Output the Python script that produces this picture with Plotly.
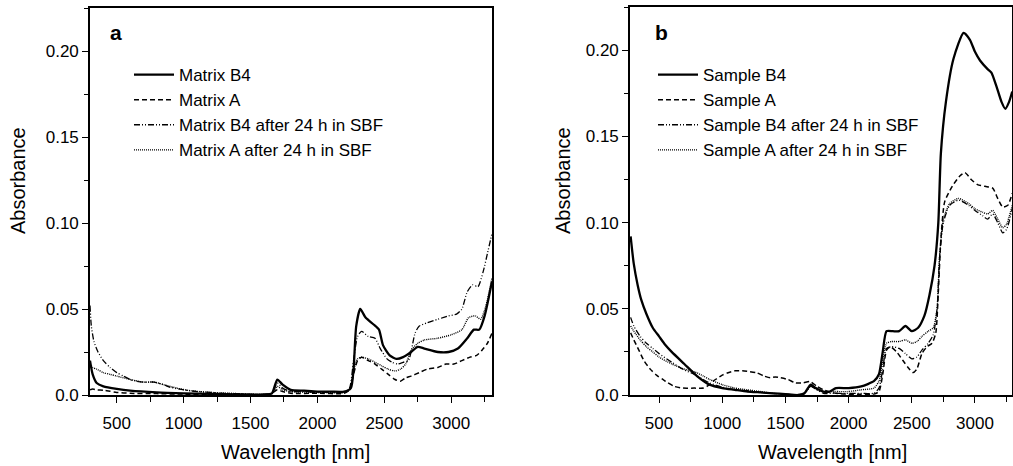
import plotly.graph_objects as go

# ---------------- Panel a : matrices ----------------
a_b4_wl = [300, 320, 350, 400, 500, 600, 800, 1000, 1200, 1400, 1600, 1660, 1700, 1740, 1800, 1900,
           2000, 2100, 2200, 2250, 2270, 2290, 2320, 2360, 2420, 2460, 2490, 2540, 2590, 2640, 2700,
           2750, 2800, 2900, 2980, 3050, 3120, 3170, 3210, 3250, 3305]
a_b4_abs = [0.020, 0.012, 0.007, 0.005, 0.0035, 0.0025, 0.0015, 0.001, 0.0007, 0.0004, 0.0003, 0.001, 0.009,
            0.006, 0.003, 0.0025, 0.002, 0.002, 0.002, 0.004, 0.015, 0.040, 0.050, 0.045, 0.041, 0.038,
            0.029, 0.023, 0.021, 0.022, 0.025, 0.028, 0.027, 0.025, 0.025, 0.027, 0.033, 0.038, 0.038,
            0.046, 0.066]

a_a_wl = [300, 320, 350, 400, 450, 500, 600, 800, 1000, 1200, 1400, 1600, 1660, 1700, 1740, 1800, 2000,
          2200, 2240, 2270, 2300, 2330, 2380, 2430, 2480, 2530, 2580, 2620, 2660, 2700, 2760, 2820, 2900,
          2960, 3020, 3080, 3140, 3190, 3230, 3270, 3305]
a_a_abs = [0.003, 0.0035, 0.003, 0.0028, 0.0022, 0.0015, 0.001, 0.0008, 0.0005, 0.0003, 0.0002, 0.0002,
           0.001, 0.003, 0.002, 0.001, 0.001, 0.001, 0.003, 0.012, 0.020, 0.022, 0.020, 0.018, 0.015,
           0.012, 0.009, 0.008, 0.010, 0.011, 0.013, 0.015, 0.016, 0.018, 0.018, 0.020, 0.022, 0.023,
           0.026, 0.030, 0.036]

a_b4sbf_wl = [300, 310, 330, 360, 400, 450, 500, 550, 600, 650, 700, 780, 850, 900, 1000, 1100, 1200,
              1300, 1400, 1500, 1600, 1660, 1700, 1740, 1800, 1900, 2000, 2100, 2200, 2240, 2270, 2300,
              2330, 2380, 2430, 2470, 2520, 2560, 2600, 2640, 2680, 2700, 2730, 2760, 2820, 2900, 2980,
              3040, 3080, 3120, 3160, 3200, 3240, 3270, 3305]
a_b4sbf_abs = [0.052, 0.040, 0.031, 0.025, 0.020, 0.016, 0.013, 0.011, 0.009, 0.008, 0.0075, 0.0075,
               0.006, 0.0045, 0.003, 0.002, 0.0015, 0.001, 0.0008, 0.0004, 0.0003, 0.001, 0.007, 0.004,
               0.002, 0.002, 0.0015, 0.0015, 0.0015, 0.004, 0.020, 0.034, 0.037, 0.034, 0.033, 0.027,
               0.021, 0.019, 0.018, 0.019, 0.020, 0.025, 0.036, 0.040, 0.042, 0.044, 0.046, 0.047, 0.050,
               0.060, 0.064, 0.063, 0.072, 0.082, 0.094]

a_asbf_wl = [300, 320, 350, 400, 450, 500, 600, 700, 780, 850, 950, 1050, 1200, 1400, 1600, 1660, 1700,
             1740, 1800, 2000, 2200, 2240, 2270, 2300, 2330, 2380, 2430, 2480, 2530, 2580, 2620, 2660,
             2700, 2750, 2800, 2900, 3000, 3080, 3130, 3180, 3220, 3260, 3305]
a_asbf_abs = [0.018, 0.016, 0.015, 0.013, 0.012, 0.011, 0.009, 0.0075, 0.0075, 0.006, 0.004, 0.0025,
              0.0015, 0.0008, 0.0003, 0.001, 0.005, 0.003, 0.002, 0.0015, 0.0015, 0.003, 0.014, 0.021,
              0.022, 0.021, 0.019, 0.017, 0.015, 0.014, 0.015, 0.018, 0.026, 0.030, 0.032, 0.033, 0.035,
              0.038, 0.045, 0.046, 0.044, 0.052, 0.068]

# ---------------- Panel b : samples ----------------
b_b4_wl = [275, 300, 330, 360, 400, 450, 500, 550, 600, 700, 800, 900, 1000, 1100, 1200, 1300, 1400,
           1500, 1600, 1650, 1700, 1740, 1800, 1850, 1900, 2000, 2100, 2200, 2240, 2270, 2300, 2350,
           2400, 2450, 2500, 2550, 2600, 2640, 2680, 2710, 2730, 2770, 2830, 2910, 2960, 3000, 3040,
           3100, 3130, 3170, 3210, 3240, 3270, 3295]
b_b4_abs = [0.092, 0.076, 0.064, 0.055, 0.047, 0.039, 0.034, 0.029, 0.025, 0.018, 0.011, 0.006, 0.004,
            0.003, 0.002, 0.0015, 0.001, 0.0005, 0.0, 0.001, 0.006, 0.004, 0.002, 0.002, 0.004, 0.004,
            0.005, 0.008, 0.012, 0.025, 0.037, 0.037, 0.037, 0.040, 0.037, 0.039, 0.046, 0.058, 0.075,
            0.100, 0.140, 0.170, 0.195, 0.210, 0.206, 0.199, 0.194, 0.189, 0.187, 0.179, 0.170, 0.166,
            0.170, 0.176]

b_a_wl = [275, 300, 340, 380, 430, 480, 530, 560, 620, 690, 780, 850, 900, 940, 1000, 1040, 1100, 1160,
          1220, 1275, 1330, 1380, 1420, 1460, 1520, 1580, 1640, 1695, 1750, 1800, 1900, 2000, 2100, 2200,
          2240, 2270, 2300, 2330, 2380, 2430, 2470, 2510, 2540, 2580, 2620, 2660, 2690, 2710, 2730,
          2760, 2820, 2880, 2920, 2970, 3020, 3080, 3140, 3180, 3220, 3260, 3295]
b_a_abs = [0.036, 0.032, 0.026, 0.020, 0.015, 0.0115, 0.009, 0.0075, 0.005, 0.004, 0.004, 0.004, 0.006,
           0.0087, 0.0115, 0.0128, 0.014, 0.014, 0.0135, 0.0128, 0.011, 0.010, 0.0105, 0.010, 0.009,
           0.007, 0.007, 0.0078, 0.005, 0.003, 0.001, 0.0005, 0.0005, 0.0005, 0.002, 0.012, 0.026,
           0.028, 0.025, 0.020, 0.016, 0.013, 0.015, 0.024, 0.028, 0.030, 0.036, 0.060, 0.090, 0.112,
           0.121, 0.127, 0.129, 0.125, 0.122, 0.121, 0.120, 0.114, 0.109, 0.110, 0.117]

b_b4sbf_wl = [275, 300, 350, 400, 450, 500, 600, 700, 780, 850, 900, 1000, 1100, 1200, 1300, 1400, 1500,
              1600, 1650, 1700, 1750, 1800, 1900, 2000, 2100, 2200, 2240, 2270, 2300, 2340, 2400, 2450,
              2500, 2540, 2580, 2630, 2670, 2700, 2720, 2750, 2800, 2870, 2950, 3000, 3060, 3100, 3140,
              3180, 3220, 3250, 3295]
b_b4sbf_abs = [0.045, 0.040, 0.034, 0.030, 0.027, 0.024, 0.019, 0.0145, 0.012, 0.009, 0.007, 0.0045,
               0.003, 0.0025, 0.0015, 0.001, 0.0005, 0.0, 0.001, 0.005, 0.003, 0.001, 0.001, 0.001, 0.001,
               0.001, 0.004, 0.015, 0.027, 0.028, 0.027, 0.024, 0.021, 0.022, 0.026, 0.030, 0.035, 0.050,
               0.080, 0.100, 0.110, 0.113, 0.110, 0.107, 0.104, 0.102, 0.105, 0.100, 0.094, 0.096, 0.108]

b_asbf_wl = [275, 300, 350, 400, 450, 500, 600, 700, 780, 850, 900, 1000, 1100, 1200, 1300, 1400, 1500,
             1600, 1650, 1700, 1750, 1800, 1900, 2000, 2100, 2200, 2240, 2270, 2300, 2340, 2400, 2450,
             2500, 2540, 2580, 2630, 2670, 2700, 2720, 2750, 2800, 2870, 2950, 3000, 3060, 3100, 3140,
             3180, 3220, 3250, 3295]
b_asbf_abs = [0.040, 0.037, 0.032, 0.028, 0.025, 0.022, 0.018, 0.015, 0.0135, 0.011, 0.009, 0.006,
              0.004, 0.003, 0.002, 0.001, 0.0005, 0.0, 0.001, 0.005, 0.003, 0.002, 0.002, 0.002, 0.003,
              0.004, 0.008, 0.020, 0.030, 0.031, 0.031, 0.032, 0.030, 0.031, 0.034, 0.037, 0.039, 0.050,
              0.080, 0.102, 0.111, 0.114, 0.111, 0.108, 0.106, 0.105, 0.107, 0.102, 0.097, 0.099, 0.110]

names_a = ["Matrix B4", "Matrix A", "Matrix B4 after 24 h in SBF", "Matrix A after 24 h in SBF"]
names_b = ["Sample B4", "Sample A", "Sample B4 after 24 h in SBF", "Sample A after 24 h in SBF"]

x_ticks = [500, 1000, 1500, 2000, 2500, 3000]
y_ticks = [0.0, 0.05, 0.10, 0.15, 0.20]
y_ticktext = ["0.0", "0.05", "0.10", "0.15", "0.20"]

FONT = "Liberation Sans, Arial, Helvetica, sans-serif"
styles = [dict(width=2.3, dash="solid"),
          dict(width=1.5, dash="5px,3px"),
          dict(width=1.3, dash="6px,2px,1px,2px,1px,2px"),
          dict(width=1.4, dash="1px,1px")]

fig = go.Figure()
series_a = [(a_b4_wl, a_b4_abs), (a_a_wl, a_a_abs), (a_b4sbf_wl, a_b4sbf_abs), (a_asbf_wl, a_asbf_abs)]
series_b = [(b_b4_wl, b_b4_abs), (b_a_wl, b_a_abs), (b_b4sbf_wl, b_b4sbf_abs), (b_asbf_wl, b_asbf_abs)]
for (x, y), nm, st in zip(series_a, names_a, styles):
    fig.add_trace(go.Scatter(x=x, y=y, name=nm, mode="lines", xaxis="x", yaxis="y", legend="legend",
                             line=dict(color="black", shape="spline", smoothing=0.6, **st)))
for (x, y), nm, st in zip(series_b, names_b, styles):
    fig.add_trace(go.Scatter(x=x, y=y, name=nm, mode="lines", xaxis="x2", yaxis="y2", legend="legend2",
                             line=dict(color="black", shape="spline", smoothing=0.6, **st)))

W, H = 1013, 466
def px(x):
    return x / W
def py(y):
    return 1 - y / H

axis_common = dict(showline=True, linecolor="black", linewidth=1.6, mirror=True, ticks="outside",
                   ticklen=6, tickwidth=1.4, tickcolor="black", showgrid=False, zeroline=False,
                   automargin=False, tickfont=dict(family=FONT, size=17, color="black"))
xminor = dict(dtick=250, tick0=0, ticks="outside", ticklen=5, tickwidth=1.2, tickcolor="black")
yminor = dict(dtick=0.025, tick0=0, ticks="outside", ticklen=4, tickwidth=1.2, tickcolor="black")

fig.update_layout(
    width=W, height=H, margin=dict(l=0, r=0, t=0, b=0, autoexpand=False),
    paper_bgcolor="white", plot_bgcolor="white",
    font=dict(family=FONT, color="black"),
    xaxis=dict(domain=[px(90), px(492)], range=[300, 3305], anchor="y", tickvals=x_ticks,
               ticklabelstandoff=6, minor=xminor, **axis_common),
    yaxis=dict(domain=[py(395), py(8)], range=[0, 0.225], anchor="x", tickvals=y_ticks, ticktext=y_ticktext,
               minor=yminor, **axis_common),
    xaxis2=dict(domain=[px(630), px(1012)], range=[270, 3293], anchor="y2", tickvals=x_ticks,
                ticklabelstandoff=6, minor=xminor, **axis_common),
    yaxis2=dict(domain=[py(395), py(7)], range=[0, 0.225], anchor="x2", tickvals=y_ticks, ticktext=y_ticktext,
                minor=yminor, **axis_common),
    legend=dict(x=px(129), y=py(57), xanchor="left", yanchor="top", bgcolor="rgba(0,0,0,0)",
                font=dict(family=FONT, size=17, color="black"), tracegroupgap=0, itemwidth=40),
    legend2=dict(x=px(653), y=py(57), xanchor="left", yanchor="top", bgcolor="rgba(0,0,0,0)",
                 font=dict(family=FONT, size=17, color="black"), tracegroupgap=0, itemwidth=40),
    showlegend=True,
)

ann = [
    dict(text="<b>a</b>", x=px(116), y=py(33), font=dict(size=21)),
    dict(text="<b>b</b>", x=px(661), y=py(32), font=dict(size=21)),
    dict(text="Absorbance", x=px(18), y=py(181), textangle=-90, font=dict(size=20)),
    dict(text="Absorbance", x=px(563), y=py(181), textangle=-90, font=dict(size=20)),
    dict(text="Wavelength [nm]", x=px(295), y=py(452), font=dict(size=20)),
    dict(text="Wavelength [nm]", x=px(832), y=py(452), font=dict(size=20)),
]
for a in ann:
    a["font"].update(family=FONT, color="black")
    fig.add_annotation(xref="paper", yref="paper", showarrow=False, xanchor="center", yanchor="middle", **a)

fig.write_html("out.html", config={"displayModeBar": False},
               post_script="document.body.style.margin='0';document.body.style.overflow='hidden';")
